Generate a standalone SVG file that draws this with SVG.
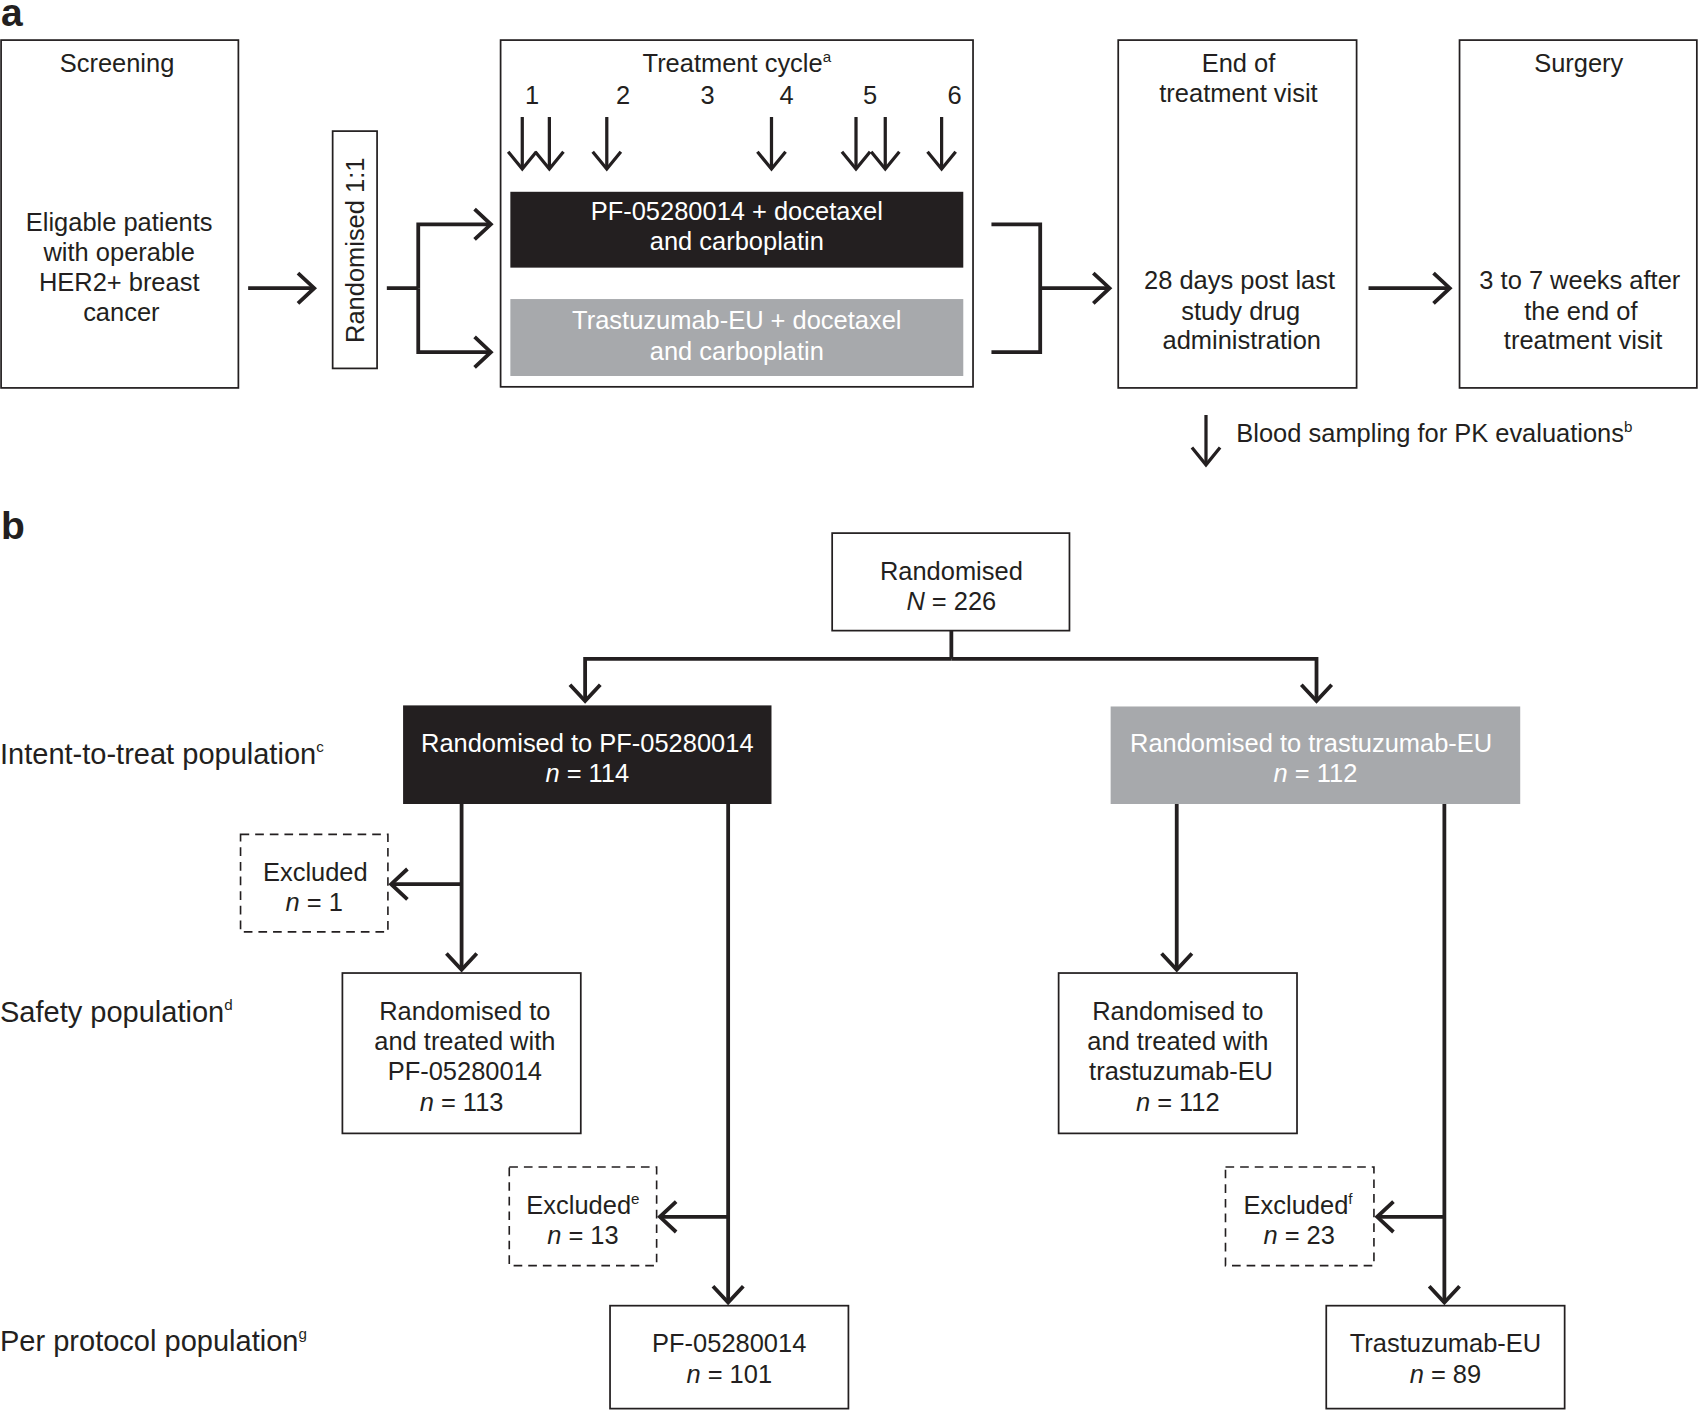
<svg xmlns="http://www.w3.org/2000/svg" width="1699" height="1410" viewBox="0 0 1699 1410">
<style>
.box{fill:#fff;stroke:#231f20;stroke-width:1.6}
.dash{fill:#fff;stroke:#231f20;stroke-width:1.5;stroke-dasharray:8 5.5}
.dark{fill:#231f20}
.gray{fill:#a7a9ac}
.t{font-family:"Liberation Sans",Arial,Helvetica,sans-serif;font-size:23.5px;fill:#231f20;text-anchor:middle}
.w{fill:#fff}
.lbl{font-size:26.8px;text-anchor:start}
.big{font-family:"Liberation Sans",Arial,sans-serif;font-weight:bold;font-size:36px;fill:#231f20}
.c{fill:none;stroke:#231f20;stroke-width:3.5;stroke-linejoin:miter}
.a{marker-end:url(#ah)}
.thin{fill:none;stroke:#231f20;stroke-width:3;marker-end:url(#ah2)}
.sup{font-size:14px}
</style>
<defs>
<marker id="ah" viewBox="-20 -20 24 40" markerWidth="24" markerHeight="40" refX="0" refY="0" orient="auto" markerUnits="userSpaceOnUse" overflow="visible">
<path d="M-15,-14 L0,0 L-15,14" fill="none" stroke="#231f20" stroke-width="3.5"/>
</marker>
<marker id="ah2" viewBox="-20 -20 24 40" markerWidth="24" markerHeight="40" refX="0" refY="0" orient="auto" markerUnits="userSpaceOnUse" overflow="visible">
<path d="M-16,-13 L0,0 L-16,13" fill="none" stroke="#231f20" stroke-width="3"/>
</marker>
</defs>
<rect width="1699" height="1410" fill="#fff"/>
<g transform="scale(1.08355)">
<text class="big" x="1" y="24">a</text>
<text class="big" x="1" y="497">b</text>

<g id="screening">
<rect class="box" x="1" y="37" width="219" height="321"/>
<text class="t" x="108" y="66">Screening</text>
<text class="t" x="110" y="213">Eligable patients</text>
<text class="t" x="110" y="241">with operable</text>
<text class="t" x="110" y="269">HER2+ breast</text>
<text class="t" x="112" y="296">cancer</text>
</g>

<g id="randomised11">
<rect class="box" x="307" y="121" width="41" height="219"/>
<text class="t" transform="translate(335.5,231) rotate(-90)">Randomised 1:1</text>
</g>

<g id="treatment">
<rect class="box" x="462" y="37" width="436" height="320"/>
<text class="t" x="680" y="66">Treatment cycle<tspan class="sup" dy="-9">a</tspan></text>
<text class="t" x="491" y="96">1</text>
<text class="t" x="575" y="96">2</text>
<text class="t" x="653" y="96">3</text>
<text class="t" x="726" y="96">4</text>
<text class="t" x="803" y="96">5</text>
<text class="t" x="881" y="96">6</text>
</g>

<g id="arm-pf">
<rect class="dark" x="471" y="177" width="418" height="70"/>
<text class="t w" x="680" y="203">PF-05280014 + docetaxel</text>
<text class="t w" x="680" y="231">and carboplatin</text>
</g>

<g id="arm-tz">
<rect class="gray" x="471" y="276" width="418" height="71"/>
<text class="t w" x="680" y="304">Trastuzumab-EU + docetaxel</text>
<text class="t w" x="680" y="332">and carboplatin</text>
</g>

<g id="end-visit">
<rect class="box" x="1032" y="37" width="220" height="321"/>
<text class="t" x="1143" y="66">End of</text>
<text class="t" x="1143" y="94">treatment visit</text>
<text class="t" x="1144" y="267">28 days post last</text>
<text class="t" x="1145" y="295">study drug</text>
<text class="t" x="1146" y="322">administration</text>
</g>

<g id="surgery">
<rect class="box" x="1347" y="37" width="219" height="321"/>
<text class="t" x="1457" y="66">Surgery</text>
<text class="t" x="1458" y="267">3 to 7 weeks after</text>
<text class="t" x="1459" y="295">the end of</text>
<text class="t" x="1461" y="322">treatment visit</text>
</g>

<g id="legend">
<text class="t" x="1141" y="408" style="text-anchor:start">Blood sampling for PK evaluations<tspan class="sup" dy="-9">b</tspan></text>
</g>

<g id="row-labels">
<text class="t lbl" x="0" y="705">Intent-to-treat population<tspan class="sup" dy="-11">c</tspan></text>
<text class="t lbl" x="0" y="943">Safety population<tspan class="sup" dy="-11">d</tspan></text>
<text class="t lbl" x="0" y="1247">Per protocol population<tspan class="sup" dy="-11">g</tspan></text>
</g>

<g id="randomised">
<rect class="box" x="768" y="492" width="219" height="90"/>
<text class="t" x="878" y="535">Randomised</text>
<text class="t" x="878" y="563"><tspan font-style="italic">N</tspan> = 226</text>
</g>

<g id="itt-pf">
<rect class="dark" x="372" y="651" width="340" height="91"/>
<text class="t w" x="542" y="694">Randomised to PF-05280014</text>
<text class="t w" x="542" y="722"><tspan font-style="italic">n</tspan> = 114</text>
</g>

<g id="itt-tz">
<rect class="gray" x="1025" y="652" width="378" height="90"/>
<text class="t w" x="1210" y="694">Randomised to trastuzumab-EU</text>
<text class="t w" x="1214" y="722"><tspan font-style="italic">n</tspan> = 112</text>
</g>

<g id="excl-1">
<rect class="dash" x="222" y="770" width="136" height="90"/>
<text class="t" x="291" y="813">Excluded</text>
<text class="t" x="290" y="841"><tspan font-style="italic">n</tspan> = 1</text>
</g>

<g id="safety-pf">
<rect class="box" x="316" y="898" width="220" height="148"/>
<text class="t" x="429" y="941">Randomised to</text>
<text class="t" x="429" y="969">and treated with</text>
<text class="t" x="429" y="997">PF-05280014</text>
<text class="t" x="426" y="1025"><tspan font-style="italic">n</tspan> = 113</text>
</g>

<g id="safety-tz">
<rect class="box" x="977" y="898" width="220" height="148"/>
<text class="t" x="1087" y="941">Randomised to</text>
<text class="t" x="1087" y="969">and treated with</text>
<text class="t" x="1090" y="997">trastuzumab-EU</text>
<text class="t" x="1087" y="1025"><tspan font-style="italic">n</tspan> = 112</text>
</g>

<g id="excl-13">
<rect class="dash" x="470" y="1077" width="136" height="91"/>
<text class="t" x="538" y="1120">Excluded<tspan class="sup" dy="-9">e</tspan></text>
<text class="t" x="538" y="1148"><tspan font-style="italic">n</tspan> = 13</text>
</g>

<g id="excl-23">
<rect class="dash" x="1131" y="1077" width="137" height="91"/>
<text class="t" x="1198" y="1120">Excluded<tspan class="sup" dy="-9">f</tspan></text>
<text class="t" x="1199" y="1148"><tspan font-style="italic">n</tspan> = 23</text>
</g>

<g id="pp-pf">
<rect class="box" x="563" y="1205" width="220" height="95"/>
<text class="t" x="673" y="1248">PF-05280014</text>
<text class="t" x="673" y="1276"><tspan font-style="italic">n</tspan> = 101</text>
</g>

<g id="pp-tz">
<rect class="box" x="1224" y="1205" width="220" height="95"/>
<text class="t" x="1334" y="1248">Trastuzumab-EU</text>
<text class="t" x="1334" y="1276"><tspan font-style="italic">n</tspan> = 89</text>
</g>

<g id="connectors">
<path class="c a" d="M229,266 H290"/>
<path class="c" d="M357,266 H386"/>
<path class="c a" d="M386,266 V207 H453"/>
<path class="c a" d="M386,266 V325 H453"/>
<path class="c" d="M915,207 H960 V325 H915"/>
<path class="c a" d="M960,266 H1024"/>
<path class="c a" d="M1263,266 H1338"/>
<path class="thin" d="M482,108 V156"/>
<path class="thin" d="M507,108 V156"/>
<path class="thin" d="M560,108 V156"/>
<path class="thin" d="M712,108 V156"/>
<path class="thin" d="M790,108 V156"/>
<path class="thin" d="M817,108 V156"/>
<path class="thin" d="M869,108 V156"/>
<path class="thin" d="M1113,383 V429"/>
<path class="c" d="M878,582 V608"/>
<path class="c a" d="M878,608 H540 V647"/>
<path class="c a" d="M878,608 H1215 V647"/>
<path class="c a" d="M426,742 V895"/>
<path class="c a" d="M426,816 H361"/>
<path class="c a" d="M672,742 V1202"/>
<path class="c a" d="M672,1123 H609"/>
<path class="c a" d="M1086,742 V895"/>
<path class="c a" d="M1333,742 V1202"/>
<path class="c a" d="M1333,1123 H1271"/>
</g>
</g>
</svg>
